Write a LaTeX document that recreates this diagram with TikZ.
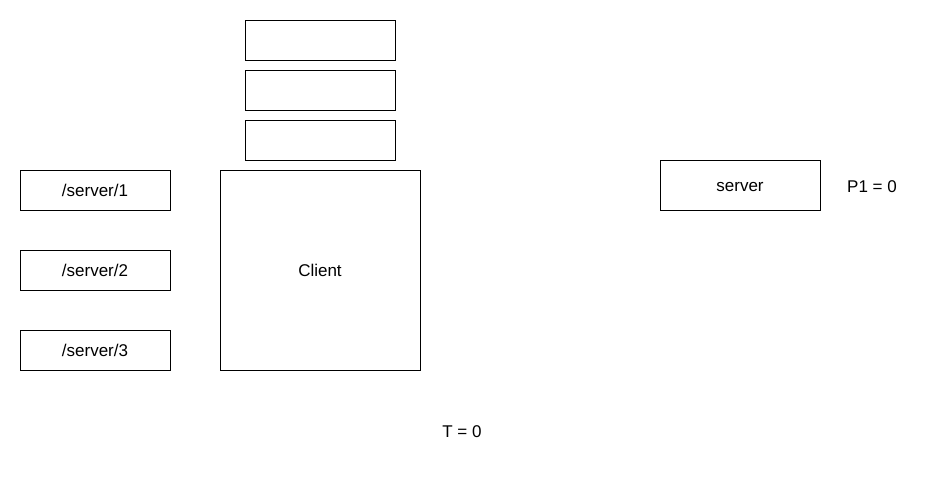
\documentclass[tikz,border=0pt]{standalone}
\usepackage{fontspec}
\setmainfont{Liberation Sans}
\begin{document}
\begin{tikzpicture}[x=1pt,y=-1pt,
  box/.style={draw=black,line width=0.8pt,fill=white,inner sep=0pt,text height=12.2pt,text depth=0pt,font=\fontsize{17}{20}\selectfont},
  lbl/.style={inner sep=0pt,text height=12.2pt,text depth=0pt,font=\fontsize{17}{20}\selectfont}]
\useasboundingbox[fill=white] (0,0) rectangle (941,491);
\node[box,minimum width=150pt,minimum height=40pt] (q1) at (320,40) {};
\node[box,minimum width=150pt,minimum height=40pt] (q2) at (320,90) {};
\node[box,minimum width=150pt,minimum height=40pt] (q3) at (320,140) {};
\node[box,minimum width=200pt,minimum height=200pt] (client) at (320,270) {Client};
\node[box,minimum width=150pt,minimum height=40pt] (s1) at (95,190) {/server/1};
\node[box,minimum width=150pt,minimum height=40pt] (s2) at (95,270) {/server/2};
\node[box,minimum width=150pt,minimum height=40pt] (s3) at (95,350) {/server/3};
\node[box,minimum width=160pt,minimum height=50pt] (server) at (740,185) {server};
\node[lbl] (p1) at (872,186) {P1 = 0};
\node[lbl] (t) at (462,431) {T = 0};
\end{tikzpicture}
\end{document}
